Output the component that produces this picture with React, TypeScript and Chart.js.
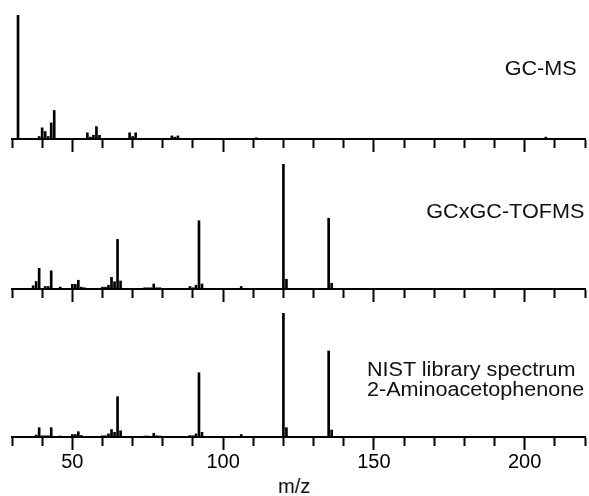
import React, { useEffect, useRef } from 'react';
import { Chart, registerables } from 'chart.js';

Chart.register(...registerables);

// x axis (m/z)
const X_MIN = 30;
const X_MAX = 220;
const X_STEP = 10;
const MAJOR_TICKS = [50, 100, 150, 200];

// GC-MS spectrum
const MZ_GCMS = [32, 39, 40, 41, 42, 43, 44, 55, 56, 57, 58, 59, 69, 70, 71, 83, 84, 85, 111, 207];
const INT_GCMS = [100, 2, 9, 6, 2, 13, 23, 5, 1.5, 3, 10, 3, 5, 2, 5, 2.5, 1.5, 2.5, 1, 1.5];

// GCxGC-TOFMS spectrum
const MZ_TOF = [37, 38, 39, 41, 42, 43, 46, 50, 51, 52, 53, 54, 60, 61, 62, 63, 64, 65, 66, 74, 75, 76, 77, 78, 79, 89, 90, 91, 92, 93, 106, 120, 121, 135, 136];
const INT_TOF = [2.6, 6, 16.5, 2, 2, 14.6, 1.5, 3.7, 3.7, 7, 1.5, 1, 1.5, 1.5, 3, 9.3, 5.8, 39.7, 6.4, 1, 1, 1, 4, 1, 1, 2, 1, 3, 54.6, 4, 2, 100, 7.8, 56.6, 4.6];

// NIST library spectrum
const MZ_NIST = [38, 39, 40, 41, 42, 43, 46, 50, 51, 52, 53, 60, 61, 62, 63, 64, 65, 66, 74, 75, 77, 78, 79, 89, 90, 91, 92, 93, 106, 120, 121, 135, 136];
const INT_NIST = [1.6, 7.5, 1, 1, 1, 7.5, 0.8, 2, 2, 4.3, 1.2, 1, 1, 2.5, 6, 3.7, 32.5, 5, 0.8, 0.8, 3, 1, 0.8, 1.2, 1, 2.5, 51.8, 3.8, 2, 100, 7.5, 69.4, 5.6];

const FONT = '"Liberation Sans", Arial, Helvetica, sans-serif';

type PanelProps = {
  mz: number[];
  intensity: number[];
  top: number;
  height: number;
  padTop: number;
  showLabels: boolean;
};

function Panel({ mz, intensity, top, height, padTop, showLabels }: PanelProps) {
  const ref = useRef<HTMLCanvasElement>(null);
  useEffect(() => {
    const chart = new Chart(ref.current as HTMLCanvasElement, {
      type: 'bar',
      data: {
        datasets: [
          {
            data: mz.map((x, i) => ({ x, y: intensity[i] })),
            backgroundColor: '#000',
            borderWidth: 0,
            barThickness: 2,
          } as any,
        ],
      },
      options: {
        animation: false,
        responsive: false,
        layout: { padding: { top: padTop, left: 12, right: 4, bottom: 0 } },
        plugins: { legend: { display: false }, tooltip: { enabled: false } },
        scales: {
          x: {
            type: 'linear',
            min: X_MIN,
            max: X_MAX,
            offset: false,
            ticks: {
              stepSize: X_STEP,
              autoSkip: false,
              maxRotation: 0,
              display: showLabels,
              padding: 0,
              color: '#000',
              font: { family: FONT, size: 20 },
              callback: (v: any) => (MAJOR_TICKS.includes(Number(v)) ? String(v) : ''),
            },
            grid: {
              display: true,
              drawOnChartArea: false,
              drawTicks: true,
              offset: false,
              tickLength: 13,
              tickWidth: 2,
              tickColor: '#000',
              tickBorderDash: (ctx: any) =>
                ctx.tick && MAJOR_TICKS.includes(ctx.tick.value) ? [] : [8, 30],
            } as any,
            border: { display: true, color: '#000', width: 2 },
          },
          y: { display: false, min: 0, max: 100 },
        },
      },
    });
    return () => chart.destroy();
  }, []);
  return (
    <canvas
      ref={ref}
      width={589}
      height={height}
      style={{ position: 'absolute', left: 0, top, width: 589, height }}
    />
  );
}

const labelStyle: React.CSSProperties = {
  position: 'absolute',
  fontFamily: FONT,
  fontSize: 20,
  lineHeight: '20px',
  color: '#111',
  whiteSpace: 'nowrap',
};

export default function App() {
  return (
    <div style={{ position: 'absolute', left: 0, top: 0, width: 589, height: 496, background: '#fff', overflow: 'hidden' }}>
      <Panel mz={MZ_GCMS} intensity={INT_GCMS} top={0} height={152} padTop={15} showLabels={false} />
      <Panel mz={MZ_TOF} intensity={INT_TOF} top={150} height={152} padTop={14} showLabels={false} />
      <Panel mz={MZ_NIST} intensity={INT_NIST} top={298} height={176} padTop={15} showLabels={true} />
      <div style={{ ...labelStyle, right: 12, top: 58, transform: 'scaleX(1.08)', transformOrigin: 'right' }}>GC-MS</div>
      <div style={{ ...labelStyle, right: 5, top: 201, transform: 'scaleX(1.08)', transformOrigin: 'right' }}>GCxGC-TOFMS</div>
      <div style={{ ...labelStyle, left: 367, top: 359, transform: 'scaleX(1.08)', transformOrigin: 'left' }}>
        NIST library spectrum
        <br />
        2-Aminoacetophenone
      </div>
      <div style={{ ...labelStyle, left: 278, top: 476 }}>m/z</div>
    </div>
  );
}
